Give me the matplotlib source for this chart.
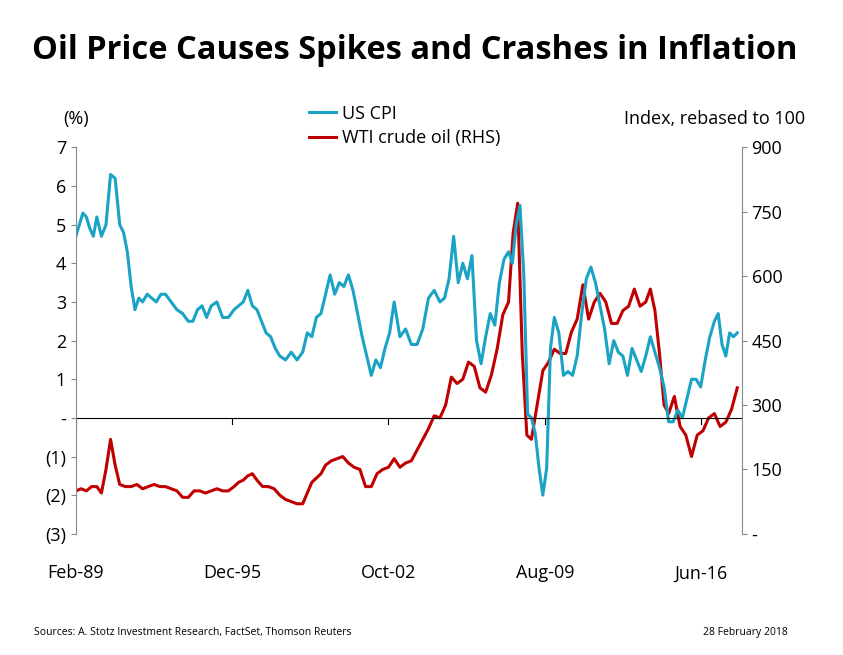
import numpy as np
import matplotlib.pyplot as plt

plt.rcParams['font.family'] = ['Open Sans', 'DejaVu Sans']

# yearly values (spread evenly over each year)
cpi = {
    1989: [4.7, 5.0, 5.3, 5.2, 4.9, 4.7], 1990: [5.2, 4.7, 5.0, 6.3, 6.2],
    1991: [5.0, 4.8, 4.3, 3.4, 2.8, 3.1], 1992: [3.0, 3.2, 3.1, 3.0, 3.2],
    1993: [3.2, 3.0, 2.8, 2.7], 1994: [2.5, 2.5, 2.8, 2.9, 2.6],
    1995: [2.9, 3.0, 2.6, 2.6], 1996: [2.8, 2.9, 3.0, 3.3, 2.9],
    1997: [2.8, 2.5, 2.2, 2.1, 1.8], 1998: [1.6, 1.5, 1.7, 1.5],
    1999: [1.7, 2.2, 2.1, 2.6, 2.7], 2000: [3.2, 3.7, 3.2, 3.5, 3.4],
    2001: [3.7, 3.3, 2.7, 2.1, 1.6], 2002: [1.1, 1.5, 1.3, 1.8, 2.2],
    2003: [3.0, 2.1, 2.3, 1.9], 2004: [1.9, 2.3, 3.1, 3.3],
    2005: [3.0, 3.1, 3.6, 4.7, 3.5], 2006: [4.0, 3.6, 4.2, 2.0, 1.4],
    2007: [2.1, 2.7, 2.4, 3.5, 4.1], 2008: [4.3, 4.0, 5.0, 5.5, 3.7, 0.1],
    2009: [0.0, -0.4, -1.3, -2.0, -1.3, 1.8], 2010: [2.6, 2.2, 1.1, 1.2, 1.1],
    2011: [1.6, 2.7, 3.6, 3.9, 3.5], 2012: [2.9, 2.3, 1.4, 2.0, 1.7],
    2013: [1.6, 1.1, 1.8, 1.5, 1.2], 2014: [1.6, 2.1, 1.7, 1.3, 0.8],
    2015: [-0.1, -0.1, 0.2, 0.0, 0.5], 2016: [1.0, 1.0, 0.8, 1.5, 2.1],
    2017: [2.5, 2.7, 1.9, 1.6, 2.2, 2.1], 2018: [2.2],
}
oil = {
    1989: [100, 105, 100, 110], 1990: [110, 95, 150, 220, 160],
    1991: [115, 110, 110, 115], 1992: [105, 110, 115, 110],
    1993: [110, 105, 100, 85], 1994: [85, 100, 100, 95],
    1995: [100, 105, 100, 100], 1996: [110, 120, 125, 135, 140],
    1997: [125, 110, 110, 105], 1998: [90, 80, 75, 70],
    1999: [70, 95, 120, 130, 140], 2000: [160, 170, 175, 180],
    2001: [165, 155, 150, 110], 2002: [110, 140, 150, 155],
    2003: [175, 155, 165, 170], 2004: [195, 220, 245, 275],
    2005: [270, 300, 365, 350], 2006: [360, 400, 390, 340],
    2007: [330, 370, 430, 510], 2008: [540, 700, 770, 420, 230],
    2009: [220, 300, 380, 400], 2010: [430, 420, 420, 470],
    2011: [500, 580, 500, 540], 2012: [560, 540, 490, 490],
    2013: [520, 530, 570, 530], 2014: [540, 570, 520, 420, 300],
    2015: [280, 320, 250, 230], 2016: [180, 230, 240, 270],
    2017: [280, 250, 260, 290], 2018: [340],
}
tick_years = [1989 + 1 / 12, 1995 + 11 / 12, 2002 + 9 / 12, 2009 + 7 / 12, 2016 + 5 / 12]
tick_labels = ['Feb-89', 'Dec-95', 'Oct-02', 'Aug-09', 'Jun-16']

def to_xy(d):
    xs, ys = [], []
    for yr, vals in d.items():
        n = len(vals)
        start = 1989 + 1 / 12 if yr == 1989 else yr
        span = 1 - (start - yr)
        for i, v in enumerate(vals):
            xs.append(start + span * i / n)
            ys.append(v)
    return xs, ys

cx, cy = to_xy(cpi)
ox, oy = to_xy(oil)

fig = plt.figure(figsize=(8.43, 6.55), dpi=100)
ax = fig.add_axes([0.09, 0.185, 0.79, 0.59])
ax2 = ax.twinx()

l1, = ax.plot(cx, cy, color='#1BA3C6', lw=2.2, label='US CPI')
l2, = ax2.plot(ox, oy, color='#C00000', lw=2.2, label='WTI crude oil (RHS)')
ax.set_zorder(ax2.get_zorder() + 1)
ax.patch.set_visible(False)

ax.set_ylim(-3, 7)
ax2.set_ylim(0, 900)
ax.set_xlim(1989 + 1 / 12, 2018.2)
ax.set_yticks(range(-3, 8))
ax.set_yticklabels(['(3)', '(2)', '(1)', '-'] + [str(i) for i in range(1, 8)])
ax2.set_yticks([0, 150, 300, 450, 600, 750, 900])
ax2.set_yticklabels(['-', '150', '300', '450', '600', '750', '900'])
ax.axhline(0, color='black', lw=0.8)
ax.set_xticks(tick_years)
ax.set_xticklabels(tick_labels)
ax.tick_params(axis='x', length=0, pad=22, labelsize=13)
for t in tick_years:
    ax.plot([t, t], [0, -0.15], color='black', lw=0.8)
ax.tick_params(axis='y', labelsize=13, color='#888888')
ax2.tick_params(axis='y', labelsize=13, color='#888888')
for a in (ax, ax2):
    a.spines['top'].set_visible(False)
    a.spines['bottom'].set_visible(False)
    a.spines['left'].set_color('#888888')
    a.spines['right'].set_color('#888888')
ax.spines['right'].set_visible(False)
ax2.spines['left'].set_visible(False)

fig.legend(handles=[l1, l2], loc='upper center', bbox_to_anchor=(0.48, 0.865),
           frameon=False, fontsize=13, handlelength=1.5, handletextpad=0.3, labelspacing=0.35)
fig.text(0.075, 0.81, '(%)', fontsize=13)
fig.text(0.955, 0.81, 'Index, rebased to 100', fontsize=13, ha='right')
fig.text(0.038, 0.91, 'Oil Price Causes Spikes and Crashes in Inflation',
         fontsize=23.5, fontweight='bold')
fig.text(0.04, 0.03, 'Sources: A. Stotz Investment Research, FactSet, Thomson Reuters', fontsize=7.5)
fig.text(0.935, 0.03, '28 February 2018', fontsize=7.5, ha='right')

fig.savefig('out.png')
